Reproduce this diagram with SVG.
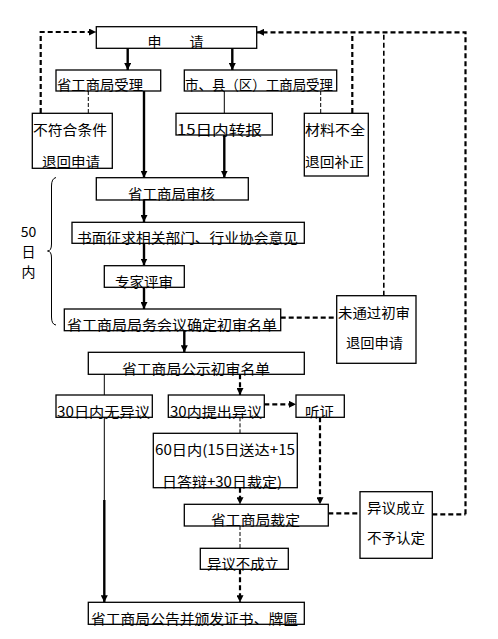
<svg xmlns="http://www.w3.org/2000/svg" width="498" height="639" viewBox="0 0 498 639">
<style>
.box{fill:#fff;stroke:#000;stroke-width:1.3}
.t{font-family:"Noto Sans CJK SC","Noto Sans CJK JP",sans-serif;font-size:14px;fill:#000}
.thick{stroke:#000;stroke-width:2.4;fill:none}
.thin{stroke:#000;stroke-width:1;fill:none}
.dthick{stroke:#000;stroke-width:2.2;fill:none;stroke-dasharray:5 3}
.dthin{stroke:#000;stroke-width:1;fill:none;stroke-dasharray:4 2}
</style>
<defs>
<marker id="ah" viewBox="0 0 10 10" refX="10" refY="5" markerWidth="3.2" markerHeight="3.2" orient="auto" markerUnits="strokeWidth">
<path d="M0,0 L10,5 L0,10 z" fill="#000"/>
</marker>
<marker id="ahs" viewBox="0 0 10 10" refX="10" refY="5" markerWidth="7" markerHeight="7" orient="auto" markerUnits="userSpaceOnUse">
<path d="M0,0 L10,5 L0,10 z" fill="#000"/>
</marker>
</defs>
<rect width="498" height="639" fill="#fff"/>
<g id="connectors">
<!-- from 申请 -->
<line class="thick" x1="127.7" y1="48" x2="127.7" y2="70" marker-end="url(#ahs)"/>
<line class="thick" x1="232.3" y1="48" x2="232.3" y2="70" marker-end="url(#ahs)"/>
<!-- 省工商局受理 -> 不符合条件 -->
<line class="dthin" x1="88.3" y1="91" x2="88.3" y2="113"/>
<!-- 不符合条件 -> 申请 -->
<polyline class="dthick" points="40.7,113 40.7,32 96,32" marker-end="url(#ahs)"/>
<!-- 省工商局受理 -> 审核 -->
<line class="thick" x1="144" y1="91" x2="144" y2="177.7" marker-end="url(#ahs)"/>
<!-- 市县 -> 15日内转报 -->
<line class="thin" x1="224.3" y1="91" x2="224.3" y2="113"/>
<line class="thick" x1="224.3" y1="135" x2="224.3" y2="177.7" marker-end="url(#ahs)"/>
<!-- 市县 -> 材料不全 -->
<line class="dthin" x1="320.7" y1="91" x2="320.7" y2="113"/>
<!-- 材料不全 -> top -->
<line class="dthick" x1="352.3" y1="113" x2="352.3" y2="32.3"/>
<!-- top return line -->
<polyline class="dthick" points="465.5,514.3 465.5,32.3 257,32.3" marker-end="url(#ahs)"/>
<line class="dthick" x1="432.3" y1="514.3" x2="465.5" y2="514.3"/>
<!-- 未通过初审 -> top -->
<line class="dthick" x1="383.8" y1="295.7" x2="383.8" y2="32.3" style="stroke-width:1.6"/>
<!-- chain -->
<line class="thick" x1="144" y1="200" x2="144" y2="222" marker-end="url(#ahs)"/>
<line class="thick" x1="144" y1="243.3" x2="144" y2="265.5" marker-end="url(#ahs)"/>
<line class="thick" x1="144" y1="287.3" x2="144" y2="309" marker-end="url(#ahs)"/>
<!-- 局务会议 -> 未通过初审 -->
<line class="dthick" x1="280.7" y1="317.7" x2="336.7" y2="317.7"/>
<!-- 局务会议 -> 公示 -->
<line class="thick" x1="184.3" y1="330.7" x2="184.3" y2="352.3" marker-end="url(#ahs)"/>
<!-- 公示 -> 30日内无异议 -->
<line class="thin" x1="104.3" y1="374.3" x2="104.3" y2="395"/>
<!-- 公示 -> 30内提出异议 -->
<line class="dthick" x1="240" y1="374.3" x2="240" y2="395" marker-end="url(#ahs)"/>
<!-- 提出异议 -> 听证 -->
<line class="dthick" x1="264.3" y1="404.3" x2="296" y2="404.3" marker-end="url(#ahs)"/>
<!-- 提出异议 -> 60日内 -->
<line class="dthin" x1="240" y1="417.3" x2="240" y2="433.3"/>
<!-- 60日内 -> 裁定 -->
<line class="dthick" x1="240" y1="487.7" x2="240" y2="504.3" marker-end="url(#ahs)"/>
<!-- 听证 -> 裁定 -->
<line class="dthick" x1="320" y1="417.3" x2="320" y2="504.3" marker-end="url(#ahs)"/>
<!-- 30日内无异议 -> 公告 -->
<line class="thin" x1="104.3" y1="417.3" x2="104.3" y2="500"/>
<line class="thick" x1="104.3" y1="500" x2="104.3" y2="602.3" marker-end="url(#ahs)"/>
<!-- 裁定 -> 异议成立 -->
<line class="dthick" x1="328.3" y1="513.3" x2="360" y2="513.3"/>
<!-- 裁定 -> 异议不成立 -->
<line class="dthin" x1="240" y1="526" x2="240" y2="548.3"/>
<!-- 异议不成立 -> 公告 -->
<line class="dthick" x1="240" y1="569.3" x2="240" y2="602.3" marker-end="url(#ahs)"/>
</g>
<g id="brace">
<path class="thin" d="M56,177.5 Q51.5,178.5 51.5,186 L51.5,244 Q51.5,251 47.5,251 Q51.5,251 51.5,258 L51.5,317 Q51.5,324.5 56,325"/>
<text class="t" x="28.5" y="236.5" font-size="12" text-anchor="middle">50</text>
<text class="t" x="28.5" y="256.5" font-size="12" text-anchor="middle">日</text>
<text class="t" x="28.5" y="276.5" font-size="12" text-anchor="middle">内</text>
</g>
<g id="n-apply"><rect class="box" x="96.3" y="26.7" width="160.4" height="21.6"/><text class="t" x="147.5" y="46.5">申　　请</text></g>
<g id="n-prov-accept"><rect class="box" x="56" y="70" width="104.7" height="21"/><text class="t" x="57" y="90" textLength="86" lengthAdjust="spacingAndGlyphs">省工商局受理</text></g>
<g id="n-city-accept"><rect class="box" x="184.3" y="70" width="152.4" height="21"/><text class="t" x="185" y="90" textLength="148" lengthAdjust="spacingAndGlyphs">市、县（区）工商局受理</text></g>
<g id="n-reject1"><rect class="box" x="32.3" y="113.3" width="80" height="55"/><text class="t" x="33" y="134.5" textLength="74" lengthAdjust="spacingAndGlyphs">不符合条件</text><text class="t" x="42" y="166.5" textLength="58" lengthAdjust="spacingAndGlyphs">退回申请</text></g>
<g id="n-15days"><rect class="box" x="176" y="113.3" width="96.3" height="21.7"/><text class="t" x="177" y="134.5" textLength="85" lengthAdjust="spacingAndGlyphs">15日内转报</text></g>
<g id="n-material"><rect class="box" x="304.3" y="113.3" width="64" height="62.7"/><text class="t" x="305" y="134.5" textLength="60" lengthAdjust="spacingAndGlyphs">材料不全</text><text class="t" x="305" y="166.5" textLength="59" lengthAdjust="spacingAndGlyphs">退回补正</text></g>
<g id="n-review"><rect class="box" x="96.3" y="177.7" width="152" height="22.3"/><text class="t" x="128" y="199" textLength="87" lengthAdjust="spacingAndGlyphs">省工商局审核</text></g>
<g id="n-consult"><rect class="box" x="72" y="222.3" width="232.3" height="21"/><text class="t" x="77" y="242.5" textLength="221" lengthAdjust="spacingAndGlyphs">书面征求相关部门、行业协会意见</text></g>
<g id="n-expert"><rect class="box" x="104.3" y="265.7" width="80" height="21.6"/><text class="t" x="115" y="286.5" textLength="58" lengthAdjust="spacingAndGlyphs">专家评审</text></g>
<g id="n-meeting"><rect class="box" x="64.3" y="309" width="216.4" height="21.7"/><text class="t" x="67" y="330" textLength="210" lengthAdjust="spacingAndGlyphs">省工商局局务会议确定初审名单</text></g>
<g id="n-fail"><rect class="box" x="336.7" y="295.7" width="79.3" height="67.6"/><text class="t" x="338" y="317.5" textLength="72" lengthAdjust="spacingAndGlyphs">未通过初审</text><text class="t" x="346" y="348" textLength="57" lengthAdjust="spacingAndGlyphs">退回申请</text></g>
<g id="n-publicize"><rect class="box" x="88.3" y="352.3" width="216" height="22"/><text class="t" x="122" y="373.5" textLength="148" lengthAdjust="spacingAndGlyphs">省工商局公示初审名单</text></g>
<g id="n-noobj"><rect class="box" x="56" y="395" width="96.3" height="22.3"/><text class="t" x="57" y="416.5" textLength="93" lengthAdjust="spacingAndGlyphs">30日内无异议</text></g>
<g id="n-obj"><rect class="box" x="168.3" y="395" width="96" height="22.3"/><text class="t" x="170" y="416.5" textLength="92" lengthAdjust="spacingAndGlyphs">30内提出异议</text></g>
<g id="n-hearing"><rect class="box" x="296" y="395" width="48.3" height="22.3"/><text class="t" x="305" y="416.5" textLength="29" lengthAdjust="spacingAndGlyphs">听证</text></g>
<g id="n-60days"><rect class="box" x="153.3" y="433.3" width="144" height="54.4"/><text class="t" x="155" y="454.5" textLength="140" lengthAdjust="spacingAndGlyphs">60日内(15日送达+15</text><text class="t" x="162" y="486.5" textLength="120" lengthAdjust="spacingAndGlyphs">日答辩+30日裁定)</text></g>
<g id="n-ruling"><rect class="box" x="184.3" y="504.3" width="144" height="21.7"/><text class="t" x="211" y="525" textLength="89" lengthAdjust="spacingAndGlyphs">省工商局裁定</text></g>
<g id="n-objok"><rect class="box" x="360" y="491.7" width="72.3" height="66.6"/><text class="t" x="367" y="513" textLength="58" lengthAdjust="spacingAndGlyphs">异议成立</text><text class="t" x="367" y="543" textLength="58" lengthAdjust="spacingAndGlyphs">不予认定</text></g>
<g id="n-objfail"><rect class="box" x="200.3" y="548.3" width="88" height="21"/><text class="t" x="207" y="568.5" textLength="72" lengthAdjust="spacingAndGlyphs">异议不成立</text></g>
<g id="n-announce"><rect class="box" x="88.3" y="602.3" width="216" height="22"/><text class="t" x="91" y="623.5" textLength="207" lengthAdjust="spacingAndGlyphs">省工商局公告并颁发证书、牌匾</text></g>
</svg>
